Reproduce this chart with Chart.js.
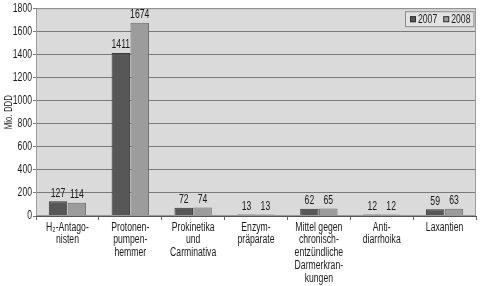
<!DOCTYPE html>
<html><head><meta charset="utf-8">
<script src="https://cdn.jsdelivr.net/npm/chart.js@4/dist/chart.umd.min.js"></script>
<style>html,body{margin:0;padding:0;background:#fff}#wrap{width:480px;height:286px}</style>
</head><body><div id="wrap"><canvas id="c" width="480" height="286"></canvas></div>
<script>
const categories = [
  ["H₂-Antago-","nisten"],
  ["Protonen-","pumpen-","hemmer"],
  ["Prokinetika","und","Carminativa"],
  ["Enzym-","präparate"],
  ["Mittel gegen","chronisch-","entzündliche","Darmerkran-","kungen"],
  ["Anti-","diarrhoika"],
  ["Laxantien"]
];
const values2007 = [127, 1411, 72, 13, 62, 12, 59];
const values2008 = [114, 1674, 74, 13, 65, 12, 63];
const seriesLabels = ["2007", "2008"];
const yTicks = [0,200,400,600,800,1000,1200,1400,1600,1800];
const yTitle = "Mio. DDD";

const FONT = "'Liberation Sans', Arial, sans-serif";
const SX = 0.72; // horizontal text compression to mimic a condensed face

const canvas = document.getElementById('c');
const ctx0 = canvas.getContext('2d');
const P = CanvasRenderingContext2D.prototype;
ctx0.fillText = function(t, x, y, mw){
  this.save(); this.translate(x, y); this.scale(SX, 1);
  P.fillText.call(this, t, 0, 0); this.restore();
};
ctx0.measureText = function(t){
  const m = P.measureText.call(this, t);
  return {width: m.width * SX, actualBoundingBoxAscent: m.actualBoundingBoxAscent,
    actualBoundingBoxDescent: m.actualBoundingBoxDescent,
    actualBoundingBoxLeft: m.actualBoundingBoxLeft * SX, actualBoundingBoxRight: m.actualBoundingBoxRight * SX};
};

const bgPlugin = {
  id:'bg',
  beforeDraw(chart){
    const {ctx, chartArea:a} = chart;
    ctx.save();
    ctx.fillStyle = '#dadada';
    ctx.fillRect(a.left, a.top, a.right-a.left, a.bottom-a.top);
    ctx.restore();
  },
  afterDatasetsDraw(chart){
    const {ctx, chartArea:a} = chart;
    ctx.save();
    ctx.strokeStyle = '#9a9a9a';
    ctx.lineWidth = 1;
    ctx.strokeRect(a.left+0.5, a.top+0.5, a.right-a.left-1, a.bottom-a.top-1);
    // data labels
    ctx.fillStyle = '#1a1a1a';
    ctx.font = "12px " + FONT;
    ctx.textAlign = 'center';
    ctx.textBaseline = 'bottom';
    chart.data.datasets.forEach((ds, i) => {
      const meta = chart.getDatasetMeta(i);
      meta.data.forEach((bar, j) => {
        ctx.fillText(String(ds.data[j]), bar.x, bar.y - 2);
      });
    });
    // legend
    ctx.font = "12px " + FONT;
    const items = chart.data.datasets.map(ds => ({ds, w: ctx.measureText(ds.label).width}));
    const bh = 16;
    const bw = 5 + items.reduce((s, it) => s + 8 + it.w, 0) + 6 * (items.length - 1) + 4;
    const lx = Math.round(a.right - 2 - bw), ly = a.top + 3;
    ctx.fillStyle = '#e2e2e2';
    ctx.fillRect(lx, ly, bw, bh);
    ctx.strokeStyle = '#8a8a8a';
    ctx.strokeRect(lx+0.5, ly+0.5, bw-1, bh-1);
    ctx.textAlign = 'left';
    ctx.textBaseline = 'middle';
    let x = lx + 5;
    items.forEach(({ds, w}) => {
      ctx.fillStyle = ds.backgroundColor;
      ctx.fillRect(x, ly + 5, 6, 6);
      ctx.strokeStyle = '#333';
      ctx.strokeRect(x+0.5, ly + 5.5, 5, 5);
      ctx.fillStyle = '#1a1a1a';
      ctx.fillText(ds.label, x + 8, ly + bh/2 + 0.5);
      x += 8 + w + 6;
    });
    ctx.restore();
  }
};

new Chart(canvas, {
  type: 'bar',
  data: {
    labels: categories,
    datasets: [
      {label: seriesLabels[0], data: values2007, backgroundColor: '#575757', borderColor: '#3a3a3a', borderWidth: 1},
      {label: seriesLabels[1], data: values2008, backgroundColor: '#9c9c9c', borderColor: '#6a6a6a', borderWidth: 1}
    ]
  },
  options: {
    responsive: false,
    animation: false,
    devicePixelRatio: 1,
    layout: {padding: {left: 0, right: 4, top: 6, bottom: 0}},
    datasets: {bar: {categoryPercentage: 0.6, barPercentage: 0.98}},
    plugins: {legend: {display: false}, tooltip: {enabled: false}},
    scales: {
      x: {
        grid: {display: true, drawOnChartArea: false, drawTicks: true, tickLength: 4, color: '#666', offset: true},
        border: {display: true, color: '#555'},
        ticks: {color: '#1a1a1a', font: {family: FONT, size: 12, lineHeight: 1.06}, maxRotation: 0, autoSkip: false, padding: 1},
        afterFit(s){ s.height = 70; }
      },
      y: {
        min: 0, max: 1800,
        afterBuildTicks(s){ s.ticks = yTicks.map(v => ({value: v})); },
        grid: {color: '#7a7a7a', drawTicks: true, tickLength: 3},
        border: {display: true, color: '#555'},
        ticks: {color: '#1a1a1a', font: {family: FONT, size: 12}, padding: 1, callback: v => String(v)},
        title: {display: true, text: yTitle, color: '#1a1a1a', font: {family: FONT, size: 11}, padding: {top: 2, bottom: 0}},
        afterFit(s){ s.width = 36; }
      }
    }
  },
  plugins: [bgPlugin]
});
</script>
</body></html>
